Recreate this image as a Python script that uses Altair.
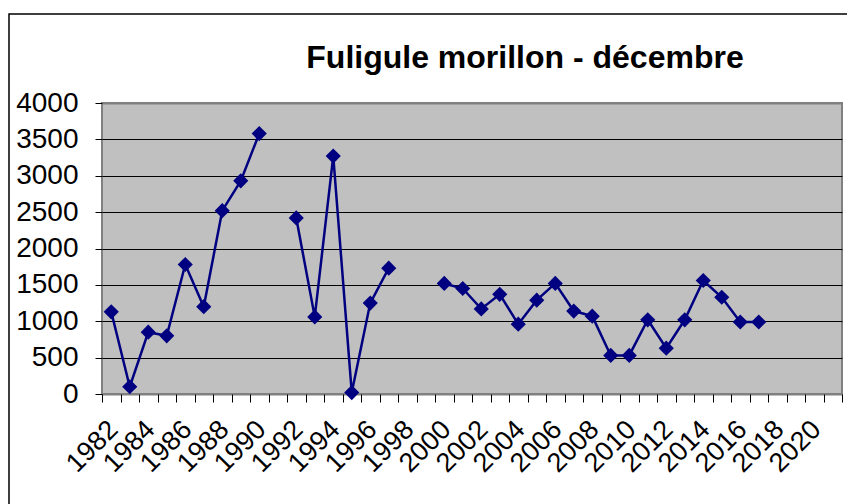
import altair as alt
import pandas as pd

years = list(range(1982, 2022))
counts = [1130, 100, 850, 800, 1780, 1200, 2520, 2930, 3580, None,
          2420, 1060, 3270, 20, 1250, 1730, None, None,
          1520, 1450, 1170, 1370, 960, 1290, 1520, 1140, 1070, 530, 530,
          1020, 630, 1020, 1560, 1330, 990, 990,
          None, None, None, None]
y_ticks = [0, 500, 1000, 1500, 2000, 2500, 3000, 3500, 4000]
title_text = "Fuligule morillon - décembre"

df = pd.DataFrame({"year": years, "count": counts})

FONT = "Liberation Sans"
NAVY = "#000080"

x_enc = alt.X(
    "year:O",
    scale=alt.Scale(type="band", domain=years, paddingInner=0, paddingOuter=0),
    axis=alt.Axis(
        title=None,
        tickBand="extent",
        labelExpr="toNumber(datum.value) % 2 == 0 ? datum.label : ''",
        labelAngle=-45,
        labelAlign="right",
        labelBaseline="middle",
        labelPadding=23,
        labelOffset=2,
        tickSize=8,
        tickColor="black",
        tickWidth=1,
        domain=False,
        grid=False,
        labelFontSize=27,
        labelFont=FONT,
        labelColor="black",
        labelOverlap=False,
        labelFlush=False,
        labelBound=False,
    ),
)

y_enc = alt.Y(
    "count:Q",
    scale=alt.Scale(domain=[0, 4000], nice=False, zero=True),
    axis=alt.Axis(
        title=None,
        values=y_ticks,
        format="d",
        grid=True,
        gridColor={"condition": {"test": "datum.value == 4000 || datum.value == 0", "value": "#808080"}, "value": "black"},
        gridWidth={"condition": {"test": "datum.value == 4000 || datum.value == 0", "value": 2}, "value": 1},
        gridOpacity=1,
        tickSize=7,
        tickColor="black",
        tickWidth=1,
        labelPadding=17,
        domain=False,
        labelFontSize=28,
        labelFont=FONT,
        labelColor="black",
        labelFlush=False,
    ),
)

base = alt.Chart(df)

line = base.mark_line(color=NAVY, strokeWidth=2.5, invalid="break-paths-filter-domains").encode(x=x_enc, y=y_enc)
points = base.transform_filter("isValid(datum.count)").mark_point(
    shape="diamond", filled=True, size=230, color=NAVY, opacity=1
).encode(x=x_enc, y=y_enc)

frame = alt.Chart(pd.DataFrame({"a": [0]})).mark_rect(
    fillOpacity=0, stroke="black", strokeWidth=1.5, clip=False
).encode(x=alt.value(-93), x2=alt.value(780), y=alt.value(-89), y2=alt.value(460))

chart = alt.layer(frame, line, points).properties(
    width=740,
    height=291,
    title=alt.TitleParams(
        text=title_text,
        font=FONT,
        fontSize=32,
        fontWeight="bold",
        color="black",
        anchor="middle",
        dx=53,
        offset=-87,
        baseline="alphabetic",
    ),
    autosize=alt.AutoSizeParams(type="none"),
    padding={"left": 94, "top": 95, "right": 5, "bottom": 110},
).configure(
    background="white"
).configure_view(
    fill="#C0C0C0", stroke="#808080", strokeWidth=2
)

chart.save("out.html", embed_options={"renderer": "svg", "actions": False})
